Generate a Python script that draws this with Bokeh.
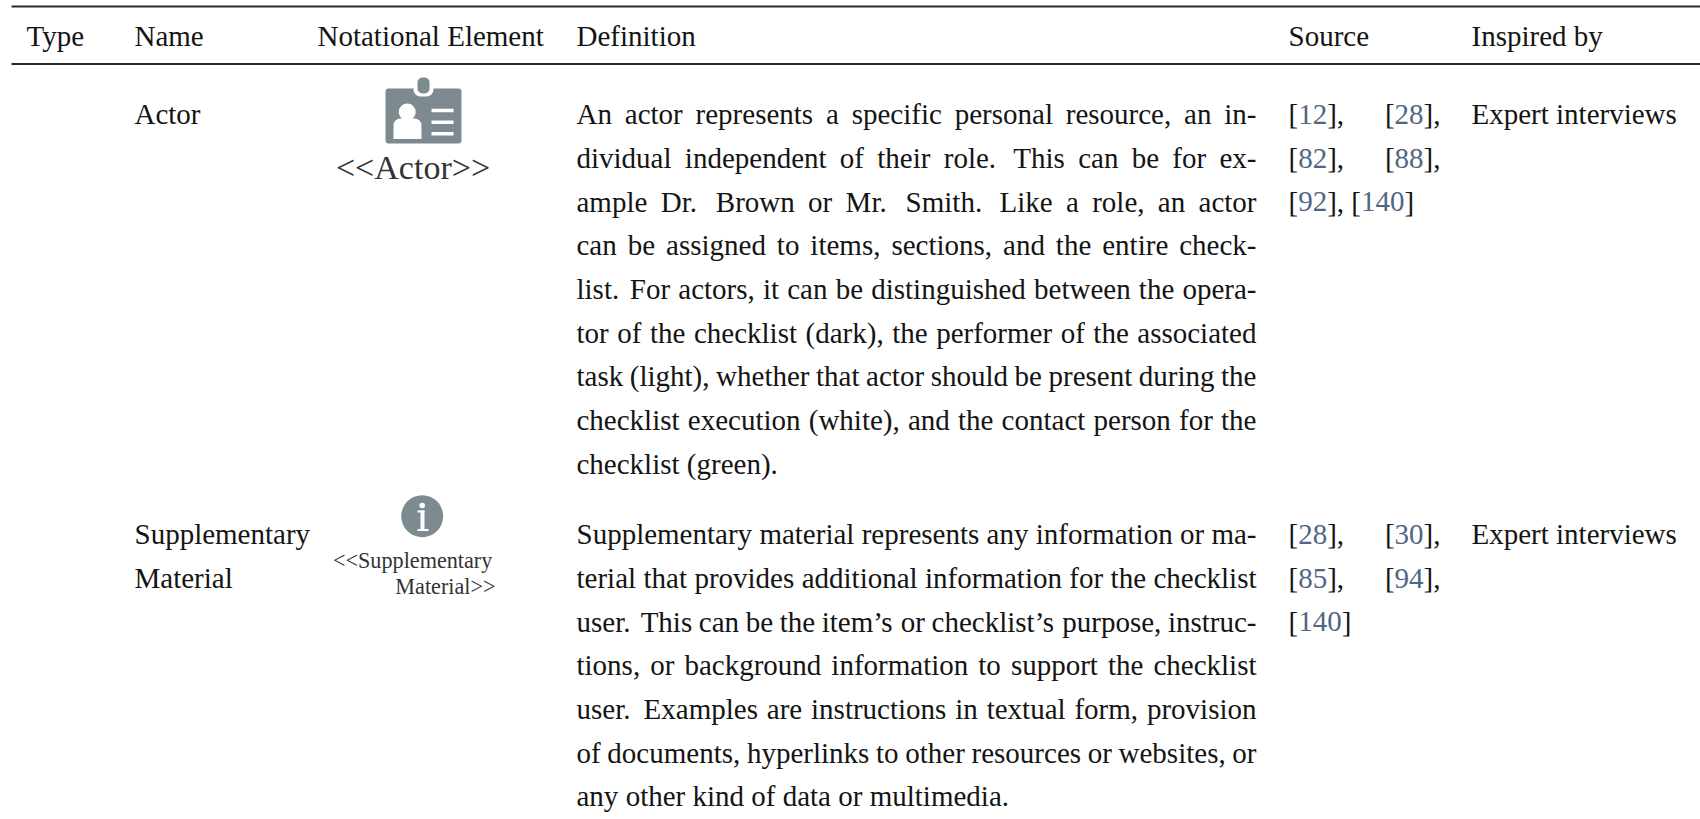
from bokeh.plotting import figure
from bokeh.embed import file_html
from bokeh.resources import INLINE
from bokeh.core.properties import value
from bokeh.models import Range1d

headers = ["Type", "Name", "Notational Element", "Definition", "Source", "Inspired by"]
names = [["Actor"], ["Supplementary", "Material"]]
inspired = ["Expert interviews", "Expert interviews"]
actor_def = [
    "An actor represents a specific personal resource, an in-",
    "dividual independent of their role. This can be for ex-",
    "ample Dr. Brown or Mr. Smith. Like a role, an actor",
    "can be assigned to items, sections, and the entire check-",
    "list. For actors, it can be distinguished between the opera-",
    "tor of the checklist (dark), the performer of the associated",
    "task (light), whether that actor should be present during the",
    "checklist execution (white), and the contact person for the",
    "checklist (green).",
]
supp_def = [
    "Supplementary material represents any information or ma-",
    "terial that provides additional information for the checklist",
    "user. This can be the item\u2019s or checklist\u2019s purpose, instruc-",
    "tions, or background information to support the checklist",
    "user. Examples are instructions in textual form, provision",
    "of documents, hyperlinks to other resources or websites, or",
    "any other kind of data or multimedia.",
]
actor_src = [["12", "28"], ["82", "88"], ["92", "140"]]
supp_src = [["28", "30"], ["85", "94"], ["140"]]

FONT = "Liberation Serif"
BLACK = "#141414"
LINK = "#4f6684"
GREY = "#7d8b90"
FS = 29.0
LH = 43.65
COL = [26, 134, 317, 576, 1288, 1471]
DEF_R = 1256
SRC_R = 1440
W = dict(zip("abcdefghijklmnopqrstuvwxyz",
             [444,500,444,500,444,333,500,500,278,278,500,278,778,500,500,500,500,333,389,278,500,500,722,500,500,444]))
W.update(dict(zip("ABCDEFGHIJKLMNOPQRSTUVWXYZ",
             [722,667,667,722,611,556,722,722,333,389,722,611,889,722,722,556,722,667,556,611,722,722,944,722,722,611])))
W.update({",":250, ".":250, "-":333, "(":333, ")":333, "\u2019":333, "[":333, "]":333, " ":250})
W.update({d:500 for d in "0123456789"})

def tw(s, fs=FS):
    return sum(W.get(c, 500) for c in s) * fs / 1000

p = figure(width=1700, height=819, output_backend="svg", toolbar_location=None,
           x_range=Range1d(0, 1700), y_range=Range1d(819, 0), min_border=0)
p.axis.visible = False
p.grid.visible = False
p.outline_line_color = None
p.background_fill_color = "white"
p.border_fill_color = "white"

def put(x, y, s, color=BLACK, size=FS, align="left"):
    p.text([x], [y - 0.38 * size], text=[s], text_font=value(FONT), text_font_size=value(f"{size}px"),
           text_color=color, text_align=align, text_baseline="alphabetic")

# rules
p.segment([11, 11], [6, 63.5], [1700, 1700], [6, 63.5], line_color="#2a2a2a", line_width=2)

for x, h in zip(COL, headers):
    put(x, 46.7, h)

def justified(lines, y0):
    for i, line in enumerate(lines):
        y = y0 + i * LH
        words = line.split(" ")
        last = i == len(lines) - 1
        ww = [tw(w) for w in words]
        # a sentence end gets a wider gap, as in the typeset original
        weights = [1.3 if w.endswith(".") else 1.0 for w in words[:-1]]
        if last:
            gaps = [0.25 * FS * k for k in weights]
        else:
            free = DEF_R - COL[3] - sum(ww)
            gaps = [free * k / sum(weights) for k in weights]
        x = COL[3]
        for j, w in enumerate(words):
            put(x, y, w)
            if j < len(gaps):
                x += ww[j] + gaps[j]

def sources(rows, y0):
    for i, row in enumerate(rows):
        y = y0 + i * LH
        if len(row) == 2 and i < 2:
            starts = [COL[4], SRC_R - tw(f"[{row[1]}],")]
        elif len(row) == 2:
            starts = [COL[4], COL[4] + tw(f"[{row[0]}], ")]
        else:
            starts = [COL[4]]
        for k, (x, n) in enumerate(zip(starts, row)):
            put(x, y, "[")
            put(x + tw("["), y, n, color=LINK)
            tail = "]," if k < len(row) - 1 or (i < 2 and len(row) == 2) else "]"
            put(x + tw("[" + n), y, tail)

Y1, Y2 = 125, 545
put(COL[1], Y1, names[0][0])
put(COL[1], Y2, names[1][0])
put(COL[1], Y2 + LH, names[1][1])
justified(actor_def, Y1)
justified(supp_def, Y2)
sources(actor_src, Y1)
sources(supp_src, Y2)
put(COL[5], Y1, inspired[0])
put(COL[5], Y2, inspired[1])

# actor badge icon
p.quad(left=[385], right=[461], top=[88], bottom=[143], fill_color=GREY, line_color=None, border_radius=3)
p.quad(left=[413], right=[433], top=[82], bottom=[96], fill_color="white", line_color=None, border_radius=7)
p.quad(left=[417], right=[429], top=[77], bottom=[93], fill_color=GREY, line_color=None, border_radius=5)
p.circle([406.7], [111.5], radius=8.5, fill_color="white", line_color=None)
p.quad(left=[393], right=[421], top=[118], bottom=[132], fill_color="white", line_color=None, border_radius=8)
p.quad(left=[393], right=[421], top=[127], bottom=[138.5], fill_color="white", line_color=None)
p.quad(left=[431, 431, 431], right=[453, 453, 453], top=[108.3, 120, 131.5], bottom=[111.8, 123.5, 135],
       fill_color="white", line_color=None)
put(412.5, 180.4, "<<Actor>>", color="#333333", size=34, align="center")

# information icon
p.circle([421.7], [515.7], radius=21, fill_color=GREY, line_color=None)
p.circle([421.7], [505], radius=2.8, fill_color="white", line_color=None)
p.quad(left=[417, 420, 417], right=[424, 424, 428], top=[510, 510, 528.5], bottom=[512, 530, 530.5],
       fill_color="white", line_color=None)
put(332.5, 568.5, "<<Supplementary", color="#333333", size=22.2)
put(495, 594.6, "Material>>", color="#333333", size=22.2, align="right")

open("out.html", "w").write(file_html(p, INLINE))
